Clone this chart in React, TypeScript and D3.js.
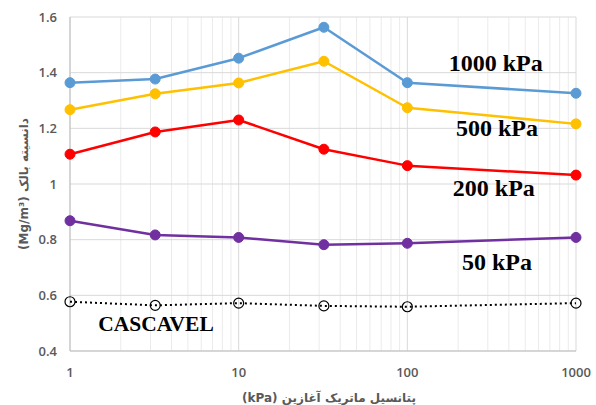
import React from "react";
import * as d3 from "d3";

const suctions = [1, 3.2, 10, 32, 100, 1000];
const s1000 = [1.364, 1.377, 1.452, 1.563, 1.364, 1.326];
const s500 = [1.267, 1.324, 1.363, 1.441, 1.274, 1.216];
const s200 = [1.107, 1.187, 1.23, 1.125, 1.066, 1.032];
const s50 = [0.868, 0.817, 0.808, 0.782, 0.787, 0.808];
const cascavel = [0.577, 0.564, 0.572, 0.562, 0.559, 0.572];
const yTicks = [0.4, 0.6, 0.8, 1, 1.2, 1.4, 1.6];
const xTicks = [1, 10, 100, 1000];
const yTitle = "دانسیته بالک (Mg/m³)";
const xTitle = "پتانسیل ماتریک آغازین (kPa)";

const seriesList = [
  { name: "1000 kPa", values: s1000, color: "#5B9BD5", lx: 176, ly: 1.406 },
  { name: "500 kPa", values: s500, color: "#FFC000", lx: 194, ly: 1.172 },
  { name: "200 kPa", values: s200, color: "#FF0000", lx: 186, ly: 0.956 },
  { name: "50 kPa", values: s50, color: "#7030A0", lx: 211, ly: 0.69 },
];
const cascavelLabel = { name: "CASCAVEL", lx: 1.47, ly: 0.472 };

export default function App() {
  const W = 596, H = 405;
  const x = d3.scaleLog().domain([1, 1000]).range([70, 576]);
  const y = d3.scaleLinear().domain([0.4, 1.6]).range([351, 17]);
  const minor: number[] = [];
  [1, 10, 100].forEach((d) => {
    for (let k = 2; k <= 9; k++) minor.push(d * k);
  });
  const line = d3
    .line<number>()
    .x((_, i) => x(suctions[i]))
    .y((v) => y(v));
  const tickFont = "'Open Sans', 'DejaVu Sans', sans-serif";
  const serif = "'Liberation Serif', 'Times New Roman', serif";
  return (
    <svg width={W} height={H} style={{ position: "absolute", left: 0, top: 0, background: "#fff" }}>
      <rect width={W} height={H} fill="#fff" />
      {minor.map((m) => (
        <line key={"m" + m} x1={x(m)} x2={x(m)} y1={y(1.6)} y2={y(0.4)} stroke="#EBEBEB" strokeWidth={1} />
      ))}
      {xTicks.map((t) => (
        <line key={"xg" + t} x1={x(t)} x2={x(t)} y1={y(1.6)} y2={y(0.4)} stroke="#D9D9D9" strokeWidth={1} />
      ))}
      {yTicks.map((t) => (
        <line key={"yg" + t} x1={x(1)} x2={x(1000)} y1={y(t)} y2={y(t)} stroke="#D9D9D9" strokeWidth={1} />
      ))}
      <line x1={x(1)} x2={x(1)} y1={y(1.6)} y2={y(0.4)} stroke="#BFBFBF" strokeWidth={1} />
      <line x1={x(1)} x2={x(1000)} y1={y(0.4)} y2={y(0.4)} stroke="#BFBFBF" strokeWidth={1} />

      {yTicks.map((t) => (
        <text key={"yl" + t} x={57} y={y(t)} dy="0.35em" textAnchor="end" fontFamily={tickFont} fontSize={13} fontWeight={600} fill="#595959">
          {String(t)}
        </text>
      ))}
      {xTicks.map((t) => (
        <text key={"xl" + t} x={x(t)} y={372} dy="0.35em" textAnchor="middle" fontFamily={tickFont} fontSize={13} fontWeight={600} fill="#595959">
          {String(t)}
        </text>
      ))}

      {seriesList.map((s) => (
        <g key={s.name}>
          <path d={line(s.values) || ""} fill="none" stroke={s.color} strokeWidth={2.5} strokeLinejoin="round" />
          {s.values.map((v, i) => (
            <circle key={i} cx={x(suctions[i])} cy={y(v)} r={5} fill={s.color} stroke={s.color} strokeWidth={1} />
          ))}
        </g>
      ))}
      <g>
        <path d={line(cascavel) || ""} fill="none" stroke="#000" strokeWidth={2} strokeDasharray="2 3" />
        {cascavel.map((v, i) => (
          <circle key={i} cx={x(suctions[i])} cy={y(v)} r={5} fill="none" stroke="#000" strokeWidth={1.2} />
        ))}
      </g>

      {seriesList.map((s) => (
        <text key={"lab" + s.name} x={x(s.lx)} y={y(s.ly)} fontFamily={serif} fontWeight="bold" fontSize={24} fill="#000">
          {s.name}
        </text>
      ))}
      <text x={x(cascavelLabel.lx)} y={y(cascavelLabel.ly)} fontFamily={serif} fontWeight="bold" fontSize={21.5} fill="#000">
        {cascavelLabel.name}
      </text>

      <text
        transform={`translate(24, ${(y(1.6) + y(0.4)) / 2}) rotate(-90)`}
        textAnchor="middle"
        dy="0.35em"
        direction="rtl"
        fontFamily="'DejaVu Sans', sans-serif"
        fontSize={12}
        fontWeight="bold"
        fill="#595959"
      >
        {yTitle}
      </text>
      <text
        x={(x(1) + x(1000)) / 2 + 6}
        y={398}
        dy="0.35em"
        textAnchor="middle"
        direction="rtl"
        fontFamily="'DejaVu Sans', sans-serif"
        fontSize={12}
        fontWeight="bold"
        fill="#595959"
      >
        {xTitle}
      </text>
    </svg>
  );
}
